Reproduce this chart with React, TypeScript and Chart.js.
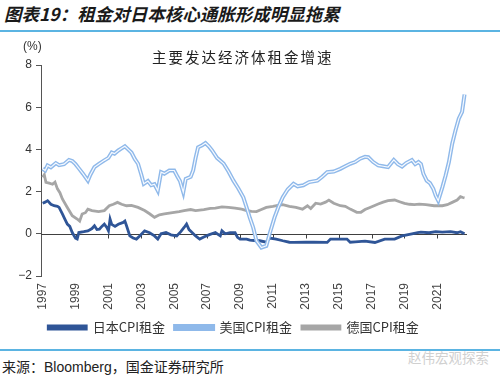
import { useEffect, useRef } from "react";
import { Chart, registerables } from "chart.js";

Chart.register(...registerables);

const X_TICKS = [1997, 1999, 2001, 2003, 2005, 2007, 2009, 2011, 2013, 2015, 2017, 2019, 2021];
const Y_TICKS = [-2, 0, 2, 4, 6, 8];

const SERIES_NAMES = ["日本CPI租金", "美国CPI租金", "德国CPI租金"];

const US_YEARS = [1997.0, 1997.15, 1997.3, 1997.5, 1997.8, 1998.0, 1998.3, 1998.6, 1998.8, 1999.0, 1999.2, 1999.45, 1999.75, 1999.9, 2000.15, 2000.4, 2000.75, 2001.0, 2001.2, 2001.37, 2001.6, 2001.8, 2002.0, 2002.2, 2002.4, 2002.6, 2002.8, 2003.0, 2003.15, 2003.4, 2003.6, 2003.8, 2004.0, 2004.2, 2004.4, 2004.7, 2005.0, 2005.2, 2005.35, 2005.55, 2005.7, 2006.0, 2006.15, 2006.3, 2006.45, 2006.7, 2006.9, 2007.1, 2007.3, 2007.6, 2008.0, 2008.3, 2008.6, 2008.9, 2009.2, 2009.4, 2009.6, 2009.8, 2010.0, 2010.3, 2010.6, 2010.8, 2011.1, 2011.35, 2011.6, 2011.9, 2012.25, 2012.5, 2012.85, 2013.2, 2013.7, 2014.0, 2014.3, 2014.7, 2015.1, 2015.4, 2015.7, 2016.0, 2016.3, 2016.6, 2016.8, 2017.1, 2017.4, 2017.7, 2018.0, 2018.35, 2018.6, 2018.85, 2019.1, 2019.45, 2019.65, 2019.85, 2020.0, 2020.15, 2020.35, 2020.55, 2020.75, 2020.9, 2021.05, 2021.3, 2021.5, 2021.7, 2021.9, 2022.1, 2022.3, 2022.5, 2022.65];
const US_VALUES = [3.08, 3.0, 3.24, 3.15, 3.35, 3.25, 3.3, 3.5, 3.45, 3.3, 3.1, 2.85, 2.52, 2.8, 3.16, 3.3, 3.48, 3.6, 3.85, 3.8, 3.95, 4.05, 4.15, 4.0, 3.85, 3.55, 3.32, 2.8, 2.37, 2.5, 2.3, 2.35, 2.05, 2.92, 2.85, 3.0, 3.0, 2.7, 2.5, 1.97, 2.6, 2.7, 3.0, 3.6, 4.1, 4.2, 4.3, 4.15, 3.95, 3.6, 3.33, 2.95, 2.52, 2.15, 1.73, 1.25, 0.75, 0.3, -0.33, -0.65, -0.57, 0.0, 0.78, 1.3, 1.73, 2.1, 2.37, 2.25, 2.3, 2.45, 2.52, 2.7, 2.92, 2.95, 3.08, 3.2, 3.32, 3.4, 3.56, 3.65, 3.63, 3.4, 3.24, 3.2, 3.16, 3.5, 3.3, 3.19, 3.35, 3.5, 3.3, 3.4, 3.3, 2.84, 2.52, 2.4, 2.13, 1.8, 1.57, 2.2, 2.76, 3.4, 4.27, 4.9, 5.46, 5.78, 6.6];

const JP_YEARS = [1997.0, 1997.15, 1997.3, 1997.5, 1997.7, 1997.9, 1998.0, 1998.2, 1998.35, 1998.5, 1998.65, 1998.8, 1999.0, 1999.1, 1999.2, 1999.5, 1999.75, 2000.0, 2000.15, 2000.3, 2000.45, 2000.6, 2000.75, 2000.9, 2001.0, 2001.1, 2001.2, 2001.4, 2001.6, 2001.9, 2002.0, 2002.1, 2002.3, 2002.5, 2002.7, 2002.9, 2003.2, 2003.5, 2003.8, 2004.0, 2004.2, 2004.5, 2004.8, 2005.15, 2005.4, 2005.6, 2005.75, 2005.9, 2006.1, 2006.3, 2006.55, 2006.8, 2007.1, 2007.5, 2007.8, 2007.9, 2008.1, 2008.4, 2008.7, 2008.85, 2009.0, 2009.4, 2009.6, 2010.0, 2010.2, 2010.6, 2010.8, 2011.2, 2011.6, 2012.0, 2012.25, 2013.0, 2013.5, 2014.3, 2014.5, 2015.0, 2015.5, 2015.7, 2016.0, 2016.6, 2017.2, 2017.8, 2018.4, 2018.85, 2019.45, 2019.8, 2020.0, 2020.5, 2020.9, 2021.3, 2021.8, 2022.2, 2022.4, 2022.65];
const JP_VALUES = [1.45, 1.5, 1.57, 1.4, 1.33, 1.3, 1.25, 0.94, 0.7, 0.46, 0.35, 0.06, -0.21, -0.25, 0.06, 0.1, 0.14, 0.25, 0.38, 0.2, 0.22, 0.35, 0.46, 0.3, 0.14, 0.7, 0.45, 0.35, 0.45, 0.54, 0.6, 0.38, -0.1, -0.2, -0.25, -0.1, 0.14, 0.05, -0.1, -0.25, 0.0, 0.06, -0.05, -0.1, 0.1, 0.3, 0.46, 0.2, 0.05, -0.1, -0.25, -0.15, -0.05, 0.06, -0.1, 0.14, 0.0, 0.05, 0.05, -0.17, -0.25, -0.25, -0.3, -0.33, -0.33, -0.4, -0.2, -0.25, -0.33, -0.4, -0.41, -0.4, -0.4, -0.41, -0.25, -0.25, -0.25, -0.4, -0.38, -0.35, -0.41, -0.25, -0.25, -0.1, 0.0, 0.05, 0.08, 0.05, 0.1, 0.08, 0.1, 0.05, 0.1, 0.0];

const DE_YEARS = [1997.0, 1997.1, 1997.2, 1997.4, 1997.6, 1997.75, 1997.9, 1998.05, 1998.2, 1998.5, 1998.8, 1999.1, 1999.25, 1999.4, 1999.6, 1999.75, 2000.0, 2000.4, 2000.75, 2001.05, 2001.3, 2001.55, 2001.8, 2002.1, 2002.4, 2002.8, 2003.2, 2003.5, 2003.8, 2004.1, 2004.4, 2004.9, 2005.3, 2005.6, 2006.0, 2006.3, 2006.8, 2007.2, 2007.5, 2007.9, 2008.3, 2008.7, 2009.1, 2009.4, 2009.7, 2010.0, 2010.3, 2010.6, 2011.0, 2011.3, 2011.6, 2012.0, 2012.4, 2012.8, 2013.1, 2013.3, 2013.6, 2013.9, 2014.2, 2014.4, 2014.7, 2015.1, 2015.4, 2015.7, 2016.1, 2016.35, 2016.6, 2016.9, 2017.4, 2017.7, 2018.0, 2018.4, 2018.7, 2019.0, 2019.3, 2019.6, 2019.9, 2020.3, 2020.8, 2021.3, 2021.6, 2021.9, 2022.2, 2022.4, 2022.55, 2022.65];
const DE_VALUES = [2.68, 2.8, 2.44, 2.4, 2.35, 2.45, 2.13, 1.95, 1.65, 1.25, 0.86, 0.7, 0.6, 0.94, 1.0, 1.17, 1.1, 1.05, 1.1, 1.33, 1.4, 1.49, 1.4, 1.33, 1.35, 1.25, 1.1, 0.95, 0.78, 0.9, 0.94, 1.0, 1.05, 1.1, 1.15, 1.1, 1.15, 1.2, 1.22, 1.28, 1.25, 1.22, 1.17, 1.1, 1.06, 1.05, 1.15, 1.25, 1.3, 1.35, 1.38, 1.3, 1.25, 1.17, 1.33, 1.2, 1.45, 1.41, 1.5, 1.6, 1.45, 1.33, 1.3, 1.17, 1.02, 1.02, 1.15, 1.25, 1.41, 1.5, 1.57, 1.6, 1.52, 1.44, 1.4, 1.38, 1.41, 1.38, 1.33, 1.33, 1.38, 1.49, 1.6, 1.76, 1.72, 1.7];

const pts = (xs: number[], ys: number[]) => xs.map((x, i) => ({ x, y: ys[i] }));

const zeroLinePlugin = {
  id: "zeroLine",
  beforeDatasetsDraw(chart: any) {
    const { ctx, chartArea, scales } = chart;
    const y0 = Math.round(scales.y.getPixelForValue(0)) + 0.5;
    ctx.save();
    ctx.strokeStyle = "#404040";
    ctx.lineWidth = 1;
    ctx.beginPath();
    ctx.moveTo(chartArea.left, y0);
    ctx.lineTo(chartArea.right, y0);
    X_TICKS.slice(1).forEach((v) => {
      const px = Math.round(scales.x.getPixelForValue(v)) + 0.5;
      ctx.moveTo(px, y0);
      ctx.lineTo(px, y0 + 4);
    });
    ctx.stroke();
    ctx.restore();
  },
};

export default function App() {
  const ref = useRef<HTMLCanvasElement>(null);

  useEffect(() => {
    if (!ref.current) return;
    const chart = new Chart(ref.current, {
      type: "line",
      data: {
        datasets: [
          {
            label: SERIES_NAMES[0],
            data: pts(JP_YEARS, JP_VALUES),
            borderColor: "#2f5597",
            backgroundColor: "#2f5597",
            borderWidth: 2.8,
            pointRadius: 0,
            tension: 0,
            order: 2,
          },
          {
            label: SERIES_NAMES[1],
            data: pts(US_YEARS, US_VALUES),
            borderColor: "#8fb9ea",
            backgroundColor: "#a9c8ef",
            borderWidth: 4,
            pointRadius: 0,
            tension: 0,
            order: 1,
          },
          {
            label: "_inner",
            data: pts(US_YEARS, US_VALUES),
            borderColor: "#f7faff",
            borderWidth: 1.2,
            pointRadius: 0,
            tension: 0,
            order: 0,
          },
          {
            label: SERIES_NAMES[2],
            data: pts(DE_YEARS, DE_VALUES),
            borderColor: "#a6a6a6",
            backgroundColor: "#a6a6a6",
            borderWidth: 2.8,
            pointRadius: 0,
            tension: 0,
            order: 3,
          },
        ],
      },
      options: {
        animation: false,
        responsive: false,
        layout: { padding: { left: 0, right: 33, top: 65, bottom: 1 } },
        plugins: {
          title: { display: false },
          tooltip: { enabled: false },
          legend: {
            position: "bottom",
            labels: {
              filter: (item: any) => item.text !== "_inner",
              sort: (a: any, b: any) => a.datasetIndex - b.datasetIndex,
              boxWidth: 38,
              boxHeight: 3,
              padding: 10,
              color: "#333",
              font: { size: 13, family: "'Noto Sans CJK SC'" },
            },
          },
        },
        scales: {
          x: {
            type: "linear",
            min: 1996.9,
            max: 2022.8,
            afterBuildTicks: (scale: any) => {
              scale.ticks = X_TICKS.map((v) => ({ value: v }));
            },
            afterFit: (scale: any) => {
              scale.height = 35;
            },
            ticks: {
              autoSkip: false,
              minRotation: 90,
              maxRotation: 90,
              padding: 7,
              color: "#444",
              font: { size: 12, family: "'Liberation Sans', Arial" },
              callback: (v: any) => String(v),
            },
            grid: { display: false, drawTicks: false },
            border: { display: false },
          },
          y: {
            min: -2,
            max: 8,
            afterBuildTicks: (scale: any) => {
              scale.ticks = Y_TICKS.map((v) => ({ value: v }));
            },
            afterFit: (scale: any) => {
              scale.width = 41;
            },
            ticks: {
              padding: 4,
              color: "#333",
              font: { size: 12, family: "'Liberation Sans', Arial" },
              callback: (v: any) => String(v).replace("-", "\u2212"),
            },
            grid: { drawOnChartArea: false, drawTicks: true, tickLength: 5, color: "#555" },
            border: { display: true, color: "#555" },
          },
        },
      },
      plugins: [zeroLinePlugin],
    } as any);
    return () => chart.destroy();
  }, []);

  return (
    <div
      style={{
        position: "fixed",
        left: 0,
        top: 0,
        width: 500,
        height: 380,
        background: "#fff",
        overflow: "hidden",
        fontFamily: "'Noto Sans CJK SC', sans-serif",
      }}
    >
      <div
        style={{
          position: "absolute",
          left: 4,
          top: 2,
          fontSize: 17.5,
          fontWeight: 700,
          fontStyle: "italic",
          color: "#1a1a1a",
          whiteSpace: "nowrap",
          lineHeight: "24px",
        }}
      >
        图表19：租金对日本核心通胀形成明显拖累
      </div>
      <div style={{ position: "absolute", left: 0, top: 30, width: 500, height: 2, background: "#5bb4e2" }} />
      <div style={{ position: "absolute", left: 0, top: 0, width: 500, height: 345 }}>
        <canvas ref={ref} width={500} height={345} />
      </div>
      <div
        style={{
          position: "absolute",
          left: 23,
          top: 38,
          fontSize: 12,
          color: "#333",
          fontFamily: "'Liberation Sans', Arial",
          lineHeight: "16px",
        }}
      >
        (%)
      </div>
      <div
        style={{
          position: "absolute",
          left: 152,
          top: 47,
          fontSize: 14.5,
          letterSpacing: 2,
          color: "#222",
          whiteSpace: "nowrap",
          lineHeight: "20px",
        }}
      >
        主要发达经济体租金增速
      </div>
      <div style={{ position: "absolute", left: 0, top: 349, width: 500, height: 2, background: "#5bb4e2" }} />
      <div
        style={{
          position: "absolute",
          left: 2,
          top: 356,
          fontSize: 14,
          color: "#222",
          whiteSpace: "nowrap",
          lineHeight: "20px",
        }}
      >
        来源：<span style={{ fontFamily: "'Liberation Sans', Arial" }}>Bloomberg</span>，国金证券研究所
      </div>
      <div
        style={{
          position: "absolute",
          left: 408,
          top: 347,
          fontSize: 13.5,
          color: "#d0d0d0",
          whiteSpace: "nowrap",
          lineHeight: "20px",
        }}
      >
        赵伟宏观探索
      </div>
    </div>
  );
}
